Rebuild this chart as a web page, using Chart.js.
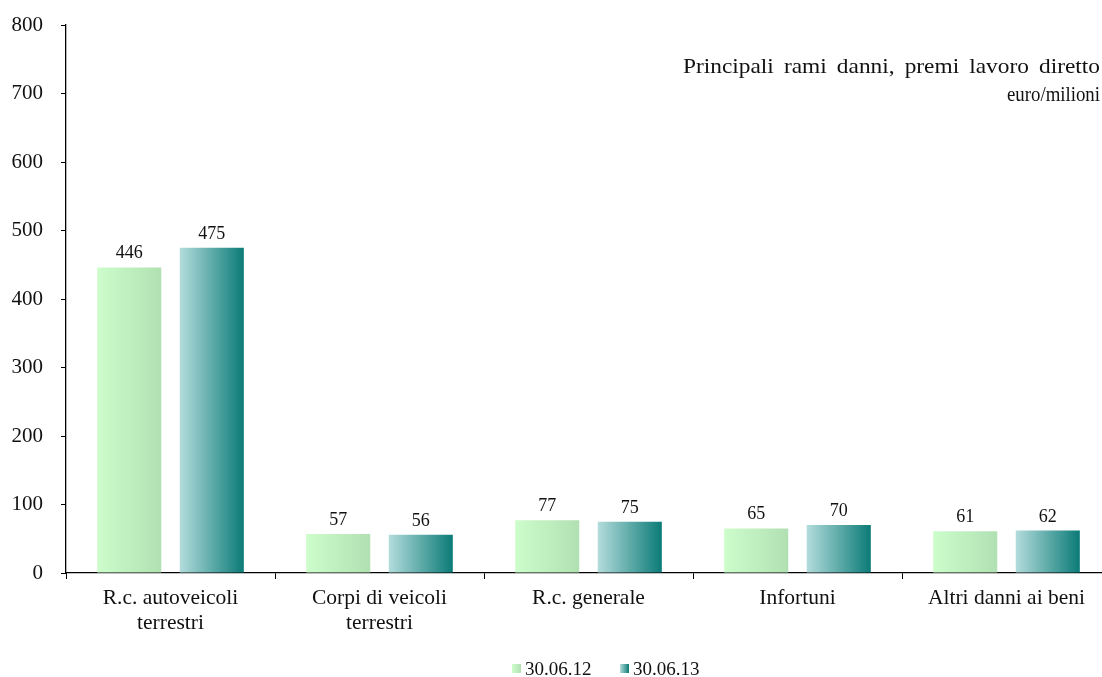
<!DOCTYPE html>
<html>
<head>
<meta charset="utf-8">
<script src="https://cdn.jsdelivr.net/npm/chart.js@4/dist/chart.umd.min.js"></script>
<style>
  html, body { margin: 0; padding: 0; background: #fff; overflow: hidden; }
  canvas { display: block; }
</style>
</head>
<body>
<canvas id="c" width="1120" height="677"></canvas>
<script>
// Principali rami danni, premi lavoro diretto (euro/milioni)
const categories = [
  ['R.c. autoveicoli', 'terrestri'],
  ['Corpi di veicoli', 'terrestri'],
  'R.c. generale',
  'Infortuni',
  'Altri danni ai beni'
];
const seriesNames = ['30.06.12', '30.06.13'];
const premi2012 = [446, 57, 77, 65, 61];
const premi2013 = [475, 56, 75, 70, 62];
const yTicks = [0, 100, 200, 300, 400, 500, 600, 700, 800];
const titleLines = ['Principali rami danni, premi lavoro diretto', 'euro/milioni'];

const FONT = '"Liberation Serif", "Times New Roman", serif';
const CAT_PCT = 0.79;
const BAR_PCT = 0.776;
// left / right stops of the horizontal bar gradients
const gradStops = [
  ['#cdfdcb', '#b1e0b3'],
  ['#b3dcdc', '#0b7b77']
];

function hGrad(ctx, x0, x1, stops) {
  const g = ctx.createLinearGradient(x0, 0, x1, 0);
  g.addColorStop(0, stops[0]);
  g.addColorStop(1, stops[1]);
  return g;
}

// gradient spanning the bar's own width, derived from the category scale
function barFill(context) {
  const chart = context.chart;
  const xs = chart.scales.x;
  const ds = context.datasetIndex;
  if (!xs || context.dataIndex === undefined) return gradStops[ds][0];
  const n = chart.data.datasets.length;
  const catW = xs.width / chart.data.labels.length;
  const slot = catW * CAT_PCT / n;
  const center = xs.getPixelForValue(context.dataIndex) + (ds - (n - 1) / 2) * slot;
  const half = slot * BAR_PCT / 2;
  if (!isFinite(center) || !isFinite(half) || half <= 0) return gradStops[ds][0];
  return hGrad(chart.ctx, center - half, center + half, gradStops[ds]);
}

// draws text right-aligned at xRight, stretched or condensed to the given width
function fitText(ctx, text, xRight, y, width, wordSpacing) {
  ctx.save();
  ctx.wordSpacing = wordSpacing + 'px';
  const natural = ctx.measureText(text).width;
  const k = width / natural;
  ctx.translate(xRight - width, y);
  ctx.scale(k, 1);
  ctx.textAlign = 'left';
  ctx.fillText(text, 0, 0);
  ctx.restore();
}

const decorations = {
  id: 'decorations',
  afterDatasetsDraw(chart) {
    const ctx = chart.ctx;
    ctx.save();
    // value labels above the bars
    ctx.font = '18px ' + FONT;
    ctx.fillStyle = '#111';
    ctx.textAlign = 'center';
    ctx.textBaseline = 'alphabetic';
    chart.data.datasets.forEach((ds, i) => {
      chart.getDatasetMeta(i).data.forEach((bar, j) => {
        ctx.fillText(String(ds.data[j]), bar.x, bar.y - 9);
      });
    });
    // title block, right aligned
    ctx.font = '22px ' + FONT;
    fitText(ctx, titleLines[0], 1100, 73, 417, 4);
    fitText(ctx, titleLines[1], 1100, 101, 93, 0);
    // legend
    ctx.font = '19px ' + FONT;
    ctx.textAlign = 'left';
    const legendX = [512, 620];
    seriesNames.forEach((name, i) => {
      const x = legendX[i];
      ctx.fillStyle = hGrad(ctx, x, x + 9, gradStops[i]);
      ctx.fillRect(x, 664, 9, 9);
      ctx.fillStyle = '#111';
      ctx.fillText(name, x + 13, 675);
    });
    ctx.restore();
  }
};

new Chart(document.getElementById('c'), {
  type: 'bar',
  data: {
    labels: categories,
    datasets: [
      { label: seriesNames[0], data: premi2012, backgroundColor: barFill, borderWidth: 0 },
      { label: seriesNames[1], data: premi2013, backgroundColor: barFill, borderWidth: 0 }
    ]
  },
  options: {
    responsive: false,
    animation: false,
    events: [],
    datasets: { bar: { categoryPercentage: CAT_PCT, barPercentage: BAR_PCT } },
    layout: { padding: { left: 0, top: 25, right: 9, bottom: 0 } },
    plugins: {
      legend: { display: false },
      tooltip: { enabled: false }
    },
    scales: {
      x: {
        grid: { offset: true, drawOnChartArea: false, tickLength: 6, color: '#000', tickColor: '#000' },
        border: { color: '#000', width: 1.3 },
        ticks: {
          color: '#111',
          padding: 7,
          maxRotation: 0,
          autoSkip: false,
          font: { family: FONT, size: 21.5, lineHeight: 1.16 }
        },
        afterFit(scale) { scale.height = 104; }
      },
      y: {
        min: 0,
        max: 800,
        afterBuildTicks(scale) { scale.ticks = yTicks.map(v => ({ value: v })); },
        grid: { drawOnChartArea: false, tickLength: 5, color: '#000', tickColor: '#000' },
        border: { color: '#000', width: 1.3 },
        ticks: {
          color: '#111',
          padding: 18,
          font: { family: FONT, size: 21 }
        },
        afterFit(scale) { scale.width = 66; scale.paddingTop = 0; }
      }
    }
  },
  plugins: [decorations]
});
</script>
</body>
</html>
